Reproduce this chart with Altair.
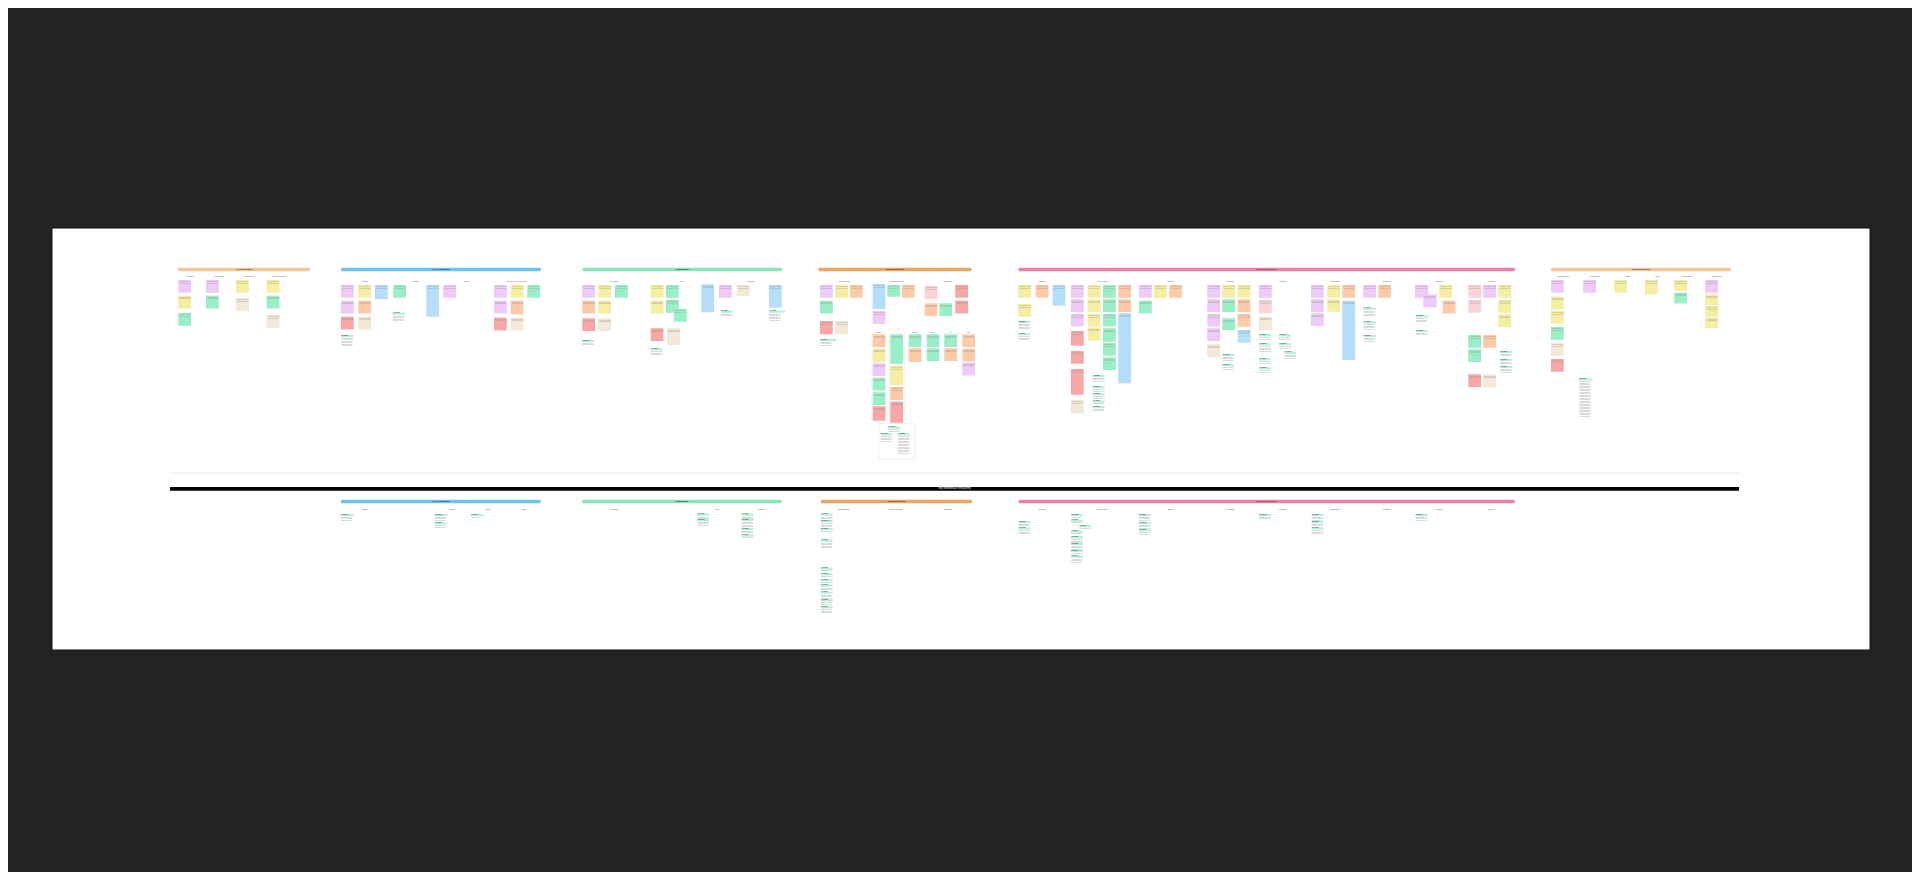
import altair as alt
import pandas as pd

# ---------------- palette ----------------
note_kinds = ["purple", "yellow", "green", "orange", "red", "beige", "blue", "pink"]
note_colors = ["#efc9f7", "#f6eea1", "#99efc6", "#ffcaa8", "#f8a6a6", "#f4e8d8", "#b4defa", "#fcd3d6"]
header_kinds = ["peach", "sky", "mint", "amber", "rose"]
header_colors = ["#f2c799", "#6cc3f3", "#88e4b9", "#eda561", "#f37fa5"]

# ---------------- board ----------------
board = [(52, 228, 1870, 650)]

# ---------------- section headers (x1, x2, y, kind, title) ----------------
headers = [
    (178, 310, 267.7, "peach", "Pre-generation"),
    (341, 541, 267.7, "sky", "Pre-onboarding"),
    (582.3, 782.3, 267.7, "mint", "Onboarding"),
    (818.3, 971.7, 267.7, "amber", "Ordering the app"),
    (1018.3, 1515, 267.7, "rose", "Ordering & delivery"),
    (1551, 1731, 267.7, "peach", "Next generations"),
    (340.8, 540.9, 499.7, "sky", "Pre-onboarding"),
    (581.9, 781.9, 499.7, "mint", "Onboarding"),
    (820.7, 972.2, 499.7, "amber", "Ordering the app"),
    (1018.5, 1514.9, 499.7, "rose", "Ordering & delivery"),
]

# ---------------- column labels (x centre, y) ----------------
col_label_x = [190, 219, 249, 279,
               365, 415.7, 466.7, 516.7,
               614, 681.7, 750.7,
               844.3, 896.7, 947.7,
               879, 896.7, 914.3, 932.3, 950.3, 968.3,
               1042.3, 1102.7, 1170.7, 1230, 1282.7, 1335, 1386.7, 1439, 1492,
               1563.3, 1595, 1627.3, 1657.7, 1687.3, 1716.7,
               364.9, 451.7, 487.8, 524,
               614, 717.3, 761.4,
               843.6, 895.5, 947.8,
               1042.4, 1102.6, 1170.5, 1230.7, 1282.6, 1334.9, 1386.8, 1438.7, 1491.5]
col_label_y = [275.7] * 4 + [281] * 4 + [281] * 3 + [281] * 3 + [331.7] * 6 + [281] * 9 + [275.7] * 6 \
    + [509.3] * 4 + [509.3] * 3 + [509.3] * 3 + [509.3] * 9
col_label_text = ["Context", "Hypothesis?", "Hypothesis 2", "Open questions",
                  "Before", "Signup", "Setup", "Account & verification",
                  "Welcome", "Tour", "Support",
                  "Expectations", "Explore the app", "Checkout",
                  "Mon", "Tue", "Wed", "Thu", "Fri", "Sat",
                  "Browse", "Select items", "Basket", "Payment", "Confirm", "Preparation", "Dispatch", "Tracking", "Delivery",
                  "What worked", "What didn't", "Ideas", "Risks", "Next steps", "Open items",
                  "Before", "Signup", "Setup", "Done",
                  "Welcome", "Tour", "Support",
                  "Expectations", "Explore the app", "Checkout",
                  "Browse", "Select items", "Basket", "Payment", "Confirm", "Preparation", "Dispatch", "Tracking", "Delivery"]

# ---------------- sticky notes (x, y, kind, w, h) ----------------
W, H = 12.7, 12.7
notes_s1 = [(178.3, 280, "purple"), (178.3, 295.7, "yellow"), (178.3, 313, "green"),
            (206, 280, "purple"), (206, 295.7, "green"),
            (236, 280, "yellow"), (236, 298, "beige"),
            (266.7, 280, "yellow"), (266.7, 295.7, "green"), (266.7, 315, "beige")]
notes_s2 = [(341, 285, "purple"), (341, 300.7, "purple"), (341, 316.7, "red"),
            (358.3, 285, "yellow"), (358.3, 300.7, "orange"), (358.3, 316.7, "beige"),
            (375, 285, "blue", W, 14), (393.3, 285, "green"),
            (426.3, 285, "blue", W, 31.7), (443.3, 285, "purple"),
            (494, 285, "purple"), (494, 300.7, "purple"), (494, 317.7, "red"),
            (510.7, 285, "yellow"), (510.7, 300.7, "orange", W, 13.7), (510.7, 317.7, "beige"),
            (527.3, 285, "green")]
notes_s3 = [(582.3, 285, "purple"), (582.3, 300.7, "orange"), (582.3, 318.3, "red"),
            (598.3, 285, "yellow"), (598.3, 300.7, "yellow"), (598.3, 318.3, "beige"),
            (615, 285, "green"),
            (650.7, 285, "yellow"), (650.7, 300.7, "yellow"), (650.7, 328.3, "red"),
            (666, 285, "green"), (666, 300, "green"), (674, 309, "green"),
            (667.3, 328.3, "beige", W, 16.7),
            (701.3, 284.3, "blue", W, 28), (719, 285, "purple"),
            (736.7, 285, "beige", W, 11), (769, 285, "blue", W, 22.7)]
notes_s4 = [(820, 285, "purple"), (820, 300.7, "green"), (820, 321, "red", W, 13.3),
            (835.3, 285, "yellow"), (835.3, 321, "beige", W, 13.3), (850, 285, "orange"),
            (872.7, 284, "blue", W, 25), (872.7, 311, "purple", W, 13),
            (887.3, 285, "green", W, 11.7), (902, 285, "orange"),
            (924.7, 286, "pink", W, 13.3), (924.7, 303.3, "orange"), (939.3, 303.3, "green"),
            (955.3, 285, "red"), (955.3, 300.7, "red"),
            (872.7, 334.3, "orange"), (872.7, 348.7, "yellow", W, 13.3), (872.7, 363.3, "purple"),
            (872.7, 377.7, "green"), (872.7, 392.3, "green"), (872.7, 406.3, "red", W, 14.4),
            (890.3, 334.3, "green", W, 29.4), (890.3, 366, "yellow", W, 19),
            (890.3, 387, "orange", W, 13), (890.3, 401.7, "red", W, 21),
            (908.7, 334.3, "green"), (908.7, 348.3, "orange", W, 13.7),
            (926.7, 334.3, "green"), (926.7, 348.3, "green"),
            (944.3, 334.3, "green"), (944.3, 348.3, "orange"),
            (962.3, 334.3, "orange"), (962.3, 348.7, "orange"), (962.3, 362.7, "purple")]
notes_s5 = [(1018.3, 285, "yellow"), (1018.3, 304, "yellow"), (1035.7, 285, "orange"),
            (1052.7, 285, "blue", W, 20.7),
            (1071, 285, "purple"), (1071, 299.3, "purple"), (1071, 314, "purple", W, 12.3),
            (1071, 331, "red", W, 14.7), (1071, 351, "red"), (1071, 369, "red", W, 25.7),
            (1071, 400, "beige", W, 13.3),
            (1087.7, 285, "yellow"), (1087.7, 299.3, "yellow"), (1087.7, 314, "yellow", W, 12.3),
            (1087.7, 327.7, "yellow"),
            (1103, 285, "green"), (1103, 299.3, "green"), (1103, 314, "green", W, 12.3),
            (1103, 328.3, "green", W, 13.4), (1103, 343, "green"), (1103, 357.3, "green"),
            (1118.3, 285, "orange"), (1118.3, 299.3, "orange"), (1118.3, 313.3, "blue", W, 70),
            (1139, 285, "purple"), (1139, 300.7, "green"), (1154, 285, "yellow"), (1169.3, 285, "orange"),
            (1207.3, 285, "purple"), (1207.3, 299.3, "purple"), (1207.3, 314, "purple", W, 12.3),
            (1207.3, 328.3, "purple"), (1207.3, 344.3, "beige", W, 13),
            (1222.3, 285, "yellow"), (1222.3, 299.3, "green"), (1222.3, 318.3, "green", W, 11.7),
            (1237.7, 285, "yellow"), (1237.7, 299.3, "orange"), (1237.7, 314, "orange"), (1237.7, 330, "blue"),
            (1259, 285, "purple"), (1259, 300, "pink", W, 13.3), (1259, 316.7, "beige", W, 13.3),
            (1311, 285, "purple"), (1311, 299.3, "purple"), (1311, 313.3, "purple"),
            (1327.3, 285, "yellow"), (1327.3, 299.3, "yellow", W, 12.3),
            (1342.3, 285, "orange"), (1342.3, 300.7, "blue", W, 59.3),
            (1363.3, 285, "purple"), (1378.3, 285, "orange"),
            (1415, 285, "purple", 13.3, H), (1423.3, 294.3, "purple", 13.4, 13),
            (1439.3, 285, "yellow"), (1442.7, 300.7, "orange"),
            (1468.3, 285, "pink"), (1468.3, 300, "pink"), (1468.3, 335, "green"),
            (1468.3, 349.3, "green"), (1468.3, 374.3, "red"),
            (1483.3, 285, "purple"), (1483.3, 335, "orange"), (1483.3, 374.3, "beige"),
            (1498.3, 285, "yellow"), (1498.3, 300, "yellow"), (1498.3, 314.3, "yellow")]
notes_s6 = [(1551, 280, "purple"), (1551, 296.7, "yellow"), (1551, 311, "yellow"),
            (1551, 327, "green"), (1551, 343, "beige"), (1551, 359, "red"),
            (1583.3, 280, "purple"), (1614.3, 280, "yellow"), (1645, 280, "yellow", W, 14.3),
            (1674.3, 280, "yellow", W, 10.7), (1674.3, 292.7, "green", W, 10.7),
            (1705.3, 280, "purple"), (1705.3, 294.3, "yellow", W, 10.7),
            (1705.3, 306, "yellow", W, 10.7), (1705.3, 317.7, "yellow", W, 10.3)]

# ---------------- tagged text cards (x, y, width, number of lines) ----------------
cards_top = [(392.7, 312.7, 15.6, 4), (341, 335, 15.7, 6),
             (582, 340, 15, 2), (650.7, 348.3, 15, 3), (720.7, 310.7, 15, 2), (769, 310.7, 20, 5),
             (820, 339, 20, 3),
             (1018.3, 321, 15, 4), (1018.3, 333.3, 15, 3),
             (1092.7, 375, 15, 3), (1092.7, 386.3, 15, 2), (1092.7, 393.3, 15, 2),
             (1092.7, 400.7, 15, 1), (1092.7, 406, 15, 2),
             (1222.3, 354, 15, 3), (1222.3, 364.3, 15, 2),
             (1259, 334.3, 15, 2), (1259, 343.3, 15, 4), (1259, 358.3, 15, 2), (1259, 367.3, 15, 2),
             (1279, 334.3, 15, 2), (1279, 343.3, 15, 2), (1284.3, 351.7, 15, 3),
             (1363.3, 307.7, 15.7, 4), (1363.3, 321.3, 15.7, 4), (1363.3, 335, 15.7, 3),
             (1415.7, 315.3, 15.3, 3), (1415.7, 330, 15.3, 2),
             (1500, 351, 15, 2), (1500, 359, 15, 2), (1500, 366, 15, 3),
             (880.5, 433.3, 15, 4), (897.7, 433.3, 15, 12), (888, 426.5, 15, 2),
             (1579, 378.3, 16, 24)]
cards_bottom = [(340.8, 514, 16, 3), (434.4, 514, 16, 3), (434.4, 522.3, 16, 2), (471, 514, 15.6, 1),
                (697.2, 513.7, 15, 2), (697.2, 519, 15, 3),
                (741.4, 513.7, 15, 2), (741.4, 519, 15, 4), (741.4, 528, 15, 2), (741.4, 534.7, 15, 1),
                (820.7, 513.7, 15, 3), (820.7, 520.3, 15, 3), (820.7, 528, 15, 1), (820.7, 539.7, 15, 4),
                (820.7, 567.7, 15, 1), (820.7, 573.3, 15, 1), (820.7, 579.3, 15, 1), (820.7, 584.7, 15, 2),
                (820.7, 591.7, 15, 3), (820.7, 599.3, 15, 2), (820.7, 606.3, 15, 3),
                (1018.5, 521, 15, 2), (1018.5, 527.3, 15, 3),
                (1070.9, 514, 15, 1), (1070.9, 519.7, 15, 1), (1079.2, 525.3, 15, 1), (1070.9, 530.7, 15, 1),
                (1070.9, 536.3, 15, 3), (1070.9, 543, 15, 3), (1070.9, 550, 15, 1), (1070.9, 555.7, 15, 3),
                (1138.8, 514, 15, 3), (1138.8, 522, 15, 3), (1138.8, 529.3, 15, 2),
                (1259.1, 514, 15, 2),
                (1311.5, 514, 15, 3), (1311.5, 521, 15, 2), (1311.5, 527.3, 15, 3),
                (1415.3, 514, 15, 3)]

# outlined frames (x1, y1, x2, y2)
frames = [(889.3, 329, 904.3, 421.7), (878.7, 423.3, 915, 459.3)]

# separator line and black banner
sep_line = [(170, 473, 1739)]
banner = [(170, 487, 1739, 490.8, "Key moments of the journey")]

# ---------------- build tables ----------------
note_fill = dict(zip(note_kinds, note_colors))
head_fill = dict(zip(header_kinds, header_colors))


def note_rows(lst):
    rows = []
    for t in lst:
        x, y, k = t[0], t[1], t[2]
        w = t[3] if len(t) > 3 else W
        h = t[4] if len(t) > 4 else H
        rows.append(dict(x=x, y=y, x2=x + w, y2=y + h, fill=note_fill[k],
                         tx=x + 1.0, ty=y + 1.2, label="Observation from the|interviews with users"))
    return rows


notes_df = pd.DataFrame(note_rows(notes_s1 + notes_s2 + notes_s3 + notes_s4 + notes_s5 + notes_s6))

cards = cards_top + cards_bottom
card_strip = pd.DataFrame([dict(x=x, y=y, x2=x + w * 0.8, y2=y + 2.0, tx=x + 0.5, ty=y + 1.0, label="Key finding")
                           for x, y, w, n in cards])
card_text = pd.DataFrame([dict(x=x + 0.3, y=y + 2.8,
                               label="|".join(["supporting detail line"] * n))
                          for x, y, w, n in cards])

board_df = pd.DataFrame([dict(x=a, y=b, x2=c, y2=d) for a, b, c, d in board])
head_df = pd.DataFrame([dict(x=a, x2=b, y=y, y2=y + 3.6, fill=head_fill[k], title=t,
                             tx=(a + b) / 2, ty=y + 1.8) for a, b, y, k, t in headers])
col_df = pd.DataFrame(dict(x=col_label_x, y=col_label_y, label=col_label_text))
frame_df = pd.DataFrame([dict(x=a, y=b, x2=c, y2=d) for a, b, c, d in frames])
sep_df = pd.DataFrame([dict(x=a, y=y, x2=b) for a, y, b in sep_line])
ban_df = pd.DataFrame([dict(x=a, y=b, x2=c, y2=d, tx=(a + c) / 2, ty=(b + d) / 2, title=t)
                       for a, b, c, d, t in banner])

xs = alt.Scale(domain=[8, 1912], nice=False, zero=False)
ys = alt.Scale(domain=[8, 872], nice=False, zero=False, reverse=True)


def X(f="x"):
    return alt.X(f"{f}:Q", scale=xs, axis=None)


def Y(f="y"):
    return alt.Y(f"{f}:Q", scale=ys, axis=None)


board_l = alt.Chart(board_df).mark_rect(fill="#ffffff", stroke="#111111", strokeWidth=1).encode(
    x=X(), x2="x2:Q", y=Y(), y2="y2:Q")

sep_l = alt.Chart(sep_df).mark_rule(color="#e4e4e4", strokeWidth=0.8).encode(x=X(), x2="x2:Q", y=Y())

ban_l = alt.Chart(ban_df).mark_rect(fill="#000000").encode(x=X(), x2="x2:Q", y=Y(), y2="y2:Q")
ban_t = alt.Chart(ban_df).mark_text(color="#ffffff", fontSize=2.6, font="Roboto", baseline="middle").encode(
    x=X("tx"), y=Y("ty"), text="title:N")

head_l = alt.Chart(head_df).mark_rect(cornerRadius=1.5).encode(
    x=X(), x2="x2:Q", y=Y(), y2="y2:Q", fill=alt.Fill("fill:N", scale=None))
head_t = alt.Chart(head_df).mark_text(color="#333333", fontSize=2.4, font="Roboto", fontWeight="bold",
                                      baseline="middle").encode(x=X("tx"), y=Y("ty"), text="title:N")

col_t = alt.Chart(col_df).mark_text(color="#666666", fontSize=2.0, font="Roboto", baseline="middle").encode(
    x=X(), y=Y(), text="label:N")

frame_l = alt.Chart(frame_df).mark_rect(fill="#ffffff", stroke="#dddddd", strokeWidth=0.5, cornerRadius=1.5).encode(
    x=X(), x2="x2:Q", y=Y(), y2="y2:Q")

notes_l = alt.Chart(notes_df).mark_rect(stroke="#00000010", strokeWidth=0.3).encode(
    x=X(), x2="x2:Q", y=Y(), y2="y2:Q", fill=alt.Fill("fill:N", scale=None))
notes_t = alt.Chart(notes_df).mark_text(color="#9a9a9a", fontSize=1.2, font="Roboto", align="left",
                                        baseline="top", lineHeight=1.6, lineBreak="|").encode(
    x=X("tx"), y=Y("ty"), text="label:N")

strip_l = alt.Chart(card_strip).mark_rect(fill="#aef2d2").encode(x=X(), x2="x2:Q", y=Y(), y2="y2:Q")
strip_t = alt.Chart(card_strip).mark_text(color="#1d5a3e", fontSize=1.3, font="Roboto", fontWeight="bold",
                                          align="left", baseline="middle").encode(
    x=X("tx"), y=Y("ty"), text="label:N")
card_t = alt.Chart(card_text).mark_text(color="#999999", fontSize=1.2, font="Roboto", align="left",
                                        baseline="top", lineHeight=1.5, lineBreak="|").encode(
    x=X(), y=Y(), text="label:N")

chart = alt.layer(board_l, sep_l, ban_l, ban_t, head_l, head_t, col_t, frame_l,
                  notes_l, notes_t, strip_l, strip_t, card_t).properties(
    width=1904, height=864,
    autosize=alt.AutoSizeParams(type="fit", contains="padding"),
    padding=0,
    background="#232325",
).configure_view(stroke=None)

chart.save("out.html", embed_options={"renderer": "svg", "actions": False})
